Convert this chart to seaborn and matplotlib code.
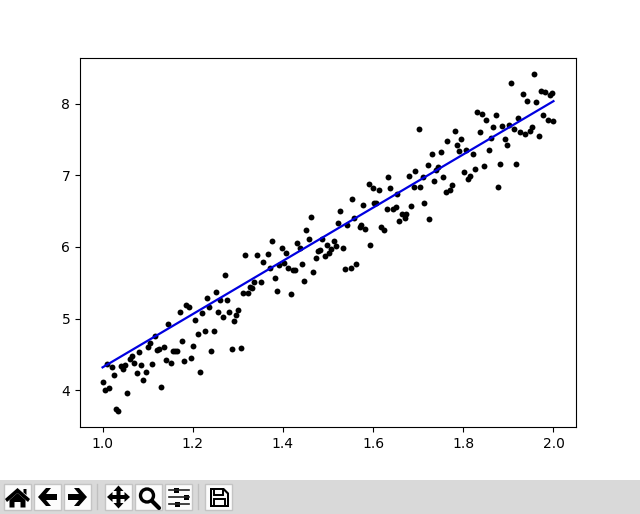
import matplotlib
matplotlib.use('Agg')
import matplotlib.pyplot as plt
from matplotlib.patches import Rectangle, Polygon, Circle
import seaborn as sns
import pandas as pd

x_pts = [1.001, 1.005, 1.010, 1.014, 1.021, 1.025, 1.030, 1.034, 1.041, 1.045, 1.050, 1.054, 1.061, 1.065, 1.070,
         1.076, 1.081, 1.085, 1.090, 1.096, 1.101, 1.105, 1.110, 1.116, 1.121, 1.125, 1.130, 1.136, 1.141, 1.145,
         1.152, 1.156, 1.161, 1.165, 1.172, 1.176, 1.181, 1.185, 1.192, 1.196, 1.201, 1.205, 1.212, 1.216, 1.221,
         1.227, 1.232, 1.236, 1.241, 1.247, 1.252, 1.256, 1.261, 1.267, 1.272, 1.276, 1.281, 1.287, 1.292, 1.296,
         1.301, 1.307, 1.312, 1.316, 1.323, 1.327, 1.332, 1.336, 1.343, 1.352, 1.356, 1.367, 1.372, 1.376, 1.383,
         1.387, 1.392, 1.398, 1.403, 1.407, 1.412, 1.418, 1.423, 1.427, 1.432, 1.438, 1.443, 1.447, 1.452, 1.458,
         1.463, 1.467, 1.474, 1.478, 1.483, 1.487, 1.494, 1.498, 1.503, 1.507, 1.514, 1.518, 1.523, 1.527, 1.534,
         1.538, 1.543, 1.550, 1.554, 1.558, 1.563, 1.570, 1.574, 1.578, 1.583, 1.590, 1.594, 1.599, 1.603, 1.607,
         1.614, 1.618, 1.625, 1.630, 1.634, 1.638, 1.645, 1.650, 1.654, 1.658, 1.665, 1.670, 1.674, 1.679, 1.684,
         1.690, 1.694, 1.701, 1.705, 1.710, 1.714, 1.721, 1.725, 1.730, 1.734, 1.739, 1.745, 1.750, 1.754, 1.761,
         1.765, 1.770, 1.774, 1.781, 1.785, 1.790, 1.796, 1.801, 1.805, 1.810, 1.816, 1.821, 1.825, 1.830, 1.836,
         1.841, 1.845, 1.850, 1.856, 1.861, 1.865, 1.872, 1.876, 1.881, 1.885, 1.892, 1.896, 1.901, 1.905, 1.912,
         1.916, 1.921, 1.925, 1.932, 1.936, 1.941, 1.947, 1.952, 1.956, 1.961, 1.967, 1.972, 1.976, 1.981, 1.987,
         1.992, 1.996, 2.000]
y_pts = [4.121, 4.009, 4.373, 4.037, 4.322, 4.219, 3.744, 3.716, 4.340, 4.303, 4.359, 3.967, 4.443, 4.485, 4.387,
         4.247, 4.541, 4.359, 4.149, 4.261, 4.611, 4.667, 4.373, 4.751, 4.569, 4.583, 4.051, 4.611, 4.429, 4.932,
         4.387, 4.555, 4.555, 4.555, 5.086, 4.681, 4.415, 5.184, 5.156, 4.457, 4.625, 4.988, 4.779, 4.261, 5.072,
         4.821, 5.282, 5.156, 4.555, 4.821, 5.366, 5.086, 5.254, 5.016, 5.604, 5.254, 5.086, 4.583, 4.974, 5.044,
         5.114, 4.597, 5.352, 5.884, 5.352, 5.445, 5.422, 5.505, 5.883, 5.505, 5.785, 5.897, 5.701, 6.079, 5.561,
         5.380, 5.743, 5.981, 5.771, 5.911, 5.701, 5.338, 5.673, 5.673, 6.051, 5.981, 5.757, 5.519, 6.233, 6.107,
         6.415, 5.645, 5.841, 5.939, 5.953, 6.107, 5.869, 6.023, 5.911, 5.967, 6.079, 6.009, 6.331, 6.498, 5.981,
         5.687, 6.303, 5.701, 6.666, 6.401, 5.757, 6.275, 6.303, 6.582, 6.247, 6.876, 6.023, 6.820, 6.610, 6.610,
         6.792, 6.275, 6.233, 6.526, 6.974, 6.820, 6.526, 6.554, 6.736, 6.359, 6.456, 6.401, 6.456, 6.988, 6.568,
         6.834, 7.058, 7.645, 6.834, 6.974, 6.610, 7.142, 6.387, 7.296, 6.918, 7.072, 7.114, 7.324, 6.974, 6.764,
         7.478, 6.792, 6.862, 7.617, 7.422, 7.338, 7.505, 7.044, 7.352, 6.946, 6.988, 7.296, 7.086, 7.883, 7.603,
         7.855, 7.128, 7.771, 7.352, 7.519, 7.673, 7.841, 6.834, 7.156, 7.687, 7.505, 7.422, 7.701, 8.289, 7.645,
         7.156, 7.799, 7.603, 8.135, 7.575, 8.037, 7.617, 7.673, 8.415, 8.023, 7.547, 8.177, 7.841, 8.163, 7.771,
         8.121, 8.149, 7.757]
x_fit = [1.0, 2.0]
y_fit = [4.32, 8.035]
x_ticks = [1.0, 1.2, 1.4, 1.6, 1.8, 2.0]
y_ticks = [4, 5, 6, 7, 8]

W, H = 640, 514
fig = plt.figure(figsize=(W / 100, H / 100), dpi=100)
ax = fig.add_axes([80 / W, (H - 427.2) / H, 496 / W, 369.6 / H])

pts = pd.DataFrame({'x': x_pts, 'y': y_pts})
fit = pd.DataFrame({'x': x_fit, 'y': y_fit})
sns.scatterplot(data=pts, x='x', y='y', color='k', s=18, linewidth=0, ax=ax)
sns.lineplot(data=fit, x='x', y='y', color='#0000e0', linewidth=1.6, ax=ax)
ax.set_xlim(0.95, 2.05)
ax.set_ylim(3.485, 8.643)
ax.set_xticks(x_ticks)
ax.set_yticks(y_ticks)
ax.set_xlabel('')
ax.set_ylabel('')

# window toolbar under the canvas, drawn in pixel coordinates
tb = fig.add_axes([0, 0, 1, 1], zorder=5)
tb.set_xlim(0, W)
tb.set_ylim(H, 0)
tb.axis('off')
tb.patch.set_alpha(0)
tb.add_patch(Rectangle((0, 480), W, 34, color='#d9d9d9', lw=0))


def button(x0):
    tb.add_patch(Rectangle((x0, 484), 27, 26, fc='#fcfcfc', ec='#c4c4c4', lw=1))


def poly(points, **kw):
    tb.add_patch(Polygon(points, closed=True, fc=kw.get('fc', 'k'), ec=kw.get('ec', 'none'), lw=kw.get('lw', 0)))


for x0 in [4, 34, 64, 105, 135, 165, 205]:
    button(x0)
for sx in [97, 198]:
    tb.plot([sx, sx], [484, 509], color='#c0c0c0', lw=1)

# home
poly([(17.5, 488), (30, 499), (28, 502), (17.5, 493), (7, 502), (5, 499)])
poly([(17.5, 493), (25.5, 500), (25.5, 507.5), (20.5, 507.5), (20.5, 502), (14.5, 502), (14.5, 507.5), (9.5, 507.5), (9.5, 500)])
poly([(23.5, 489), (26.5, 489), (26.5, 495), (23.5, 492.5)])
# back
poly([(38, 497), (46, 488), (51, 488), (46, 494), (57, 494), (57, 500), (46, 500), (51, 506), (46, 506)])
# forward
poly([(87, 497), (79, 488), (74, 488), (79, 494), (68, 494), (68, 500), (79, 500), (74, 506), (79, 506)])
# move
poly([(118.5, 485.5), (123.5, 491), (120.5, 491), (120.5, 495), (124.5, 495), (124.5, 492), (130, 497),
      (124.5, 502), (124.5, 499), (120.5, 499), (120.5, 503), (123.5, 503), (118.5, 508.5), (113.5, 503),
      (116.5, 503), (116.5, 499), (112.5, 499), (112.5, 502), (107, 497), (112.5, 492), (112.5, 495),
      (116.5, 495), (116.5, 491), (113.5, 491)])
# zoom
tb.add_patch(Circle((147, 495.5), 6.5, fc='none', ec='k', lw=2.4))
tb.plot([152, 159], [501, 508], color='k', lw=3, solid_capstyle='round')
# sliders
for yy, xx in [(490, 174), (497, 184), (504, 175)]:
    tb.plot([169, 189], [yy, yy], color='#222222', lw=1.2)
    tb.add_patch(Rectangle((xx, yy - 2.5), 4.5, 5, color='k', lw=0))
# save
poly([(210, 488), (224, 488), (229, 493), (229, 507), (210, 507)])
poly([(212, 490), (223, 490), (227, 494), (227, 505), (212, 505)], fc='#fcfcfc')
tb.add_patch(Rectangle((214, 488.5), 9, 6.5, fc='#fcfcfc', ec='k', lw=1.4))
tb.add_patch(Rectangle((214, 499), 11, 7, fc='#fcfcfc', ec='k', lw=1.4))

fig.savefig('out.png', dpi=100)
